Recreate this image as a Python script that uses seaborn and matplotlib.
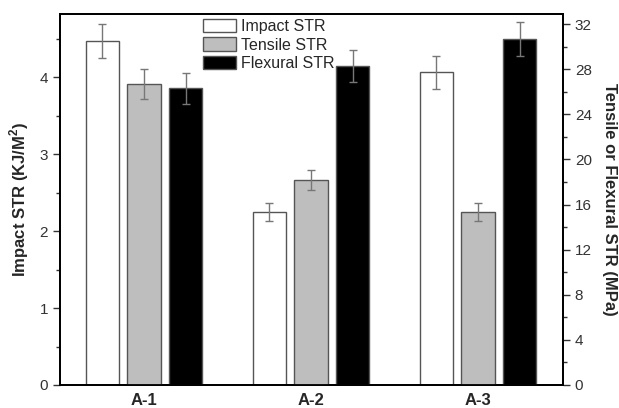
import numpy as np
import pandas as pd
import seaborn as sns
import matplotlib.pyplot as plt
from matplotlib.ticker import MultipleLocator

samples = ["A-1", "A-2", "A-3"]
series = ["Impact STR", "Tensile STR", "Flexural STR"]
impact = [4.47, 2.25, 4.06]
impact_err = [0.22, 0.12, 0.21]
tensile = [26.7, 18.2, 15.3]
tensile_err = [1.3, 0.9, 0.8]
flexural = [26.3, 28.3, 30.7]
flexural_err = [1.4, 1.4, 1.5]

colors = {"Impact STR": "white", "Tensile STR": "#bebebe", "Flexural STR": "black"}

df = pd.DataFrame({
    "sample": samples * 3,
    "series": np.repeat(series, 3),
    "value": impact + tensile + flexural,
    "err": impact_err + tensile_err + flexural_err,
})

sns.set_style("ticks")
plt.rcParams['font.family'] = ['Liberation Sans', 'DejaVu Sans']

fig = plt.figure(figsize=(6.19, 4.08), dpi=100)
ax1 = fig.add_axes([0.097, 0.0564, 0.8125, 0.9093])
ax2 = ax1.twinx()

left = df[df.series == "Impact STR"]
right = df[df.series != "Impact STR"]

kw = dict(x="sample", y="value", hue="series", order=samples, hue_order=series,
          palette=colors, width=0.75, gap=0.2, dodge=True, errorbar=None,
          edgecolor="#555555", linewidth=1.0)
sns.barplot(data=left, ax=ax1, legend=False, **kw)
sns.barplot(data=right, ax=ax2, legend=False, **kw)

# error bars at the bar centres
for ax, d in [(ax1, left), (ax2, right)]:
    bars = [p for p in ax.patches if p.get_height() > 0]
    xs = [p.get_x() + p.get_width() / 2 for p in bars]
    hs = [p.get_height() for p in bars]
    es = [d.loc[np.isclose(d.value, h), "err"].iloc[0] for h in hs]
    ax.errorbar(xs, hs, yerr=es, fmt="none", ecolor="#777777",
                elinewidth=1.0, capsize=3, capthick=1.0, zorder=5)

ax1.set_xlim(-0.503, 2.509)
ax1.set_ylim(0, 4.82)
ax2.set_ylim(0, 32.9)

ax1.yaxis.set_major_locator(MultipleLocator(1))
ax1.yaxis.set_minor_locator(MultipleLocator(0.5))
ax2.yaxis.set_major_locator(MultipleLocator(4))
ax2.yaxis.set_minor_locator(MultipleLocator(2))

ax1.set_xlabel("")
ax1.set_ylabel("Impact STR (KJ/M$^\\mathregular{2}$)", fontsize=12, fontweight="bold", labelpad=6)
ax2.set_ylabel("Tensile or Flexural STR (MPa)", fontsize=12, fontweight="bold",
               rotation=270, labelpad=18)

for ax in (ax1, ax2):
    for s in ax.spines.values():
        s.set_visible(True)
        s.set_linewidth(1.3)
        s.set_color("black")
    ax.tick_params(axis="y", which="major", length=5, width=1, labelsize=11, colors="#333333")
    ax.tick_params(axis="y", which="minor", length=3, width=1, colors="#333333")

ax1.tick_params(axis="x", length=0, labelsize=12, pad=6)
for t in ax1.get_xticklabels():
    t.set_fontweight("bold")

handles = [plt.Rectangle((0, 0), 1, 1, facecolor=colors[s], edgecolor="#555555") for s in series]
ax1.legend(handles, series, loc="upper left", bbox_to_anchor=(0.265, 1.012), frameon=False,
           fontsize=11.5, handlelength=2.1, handleheight=0.9, labelspacing=0.2,
           handletextpad=0.3, borderaxespad=0.2)

fig.savefig("out.png", dpi=100)
